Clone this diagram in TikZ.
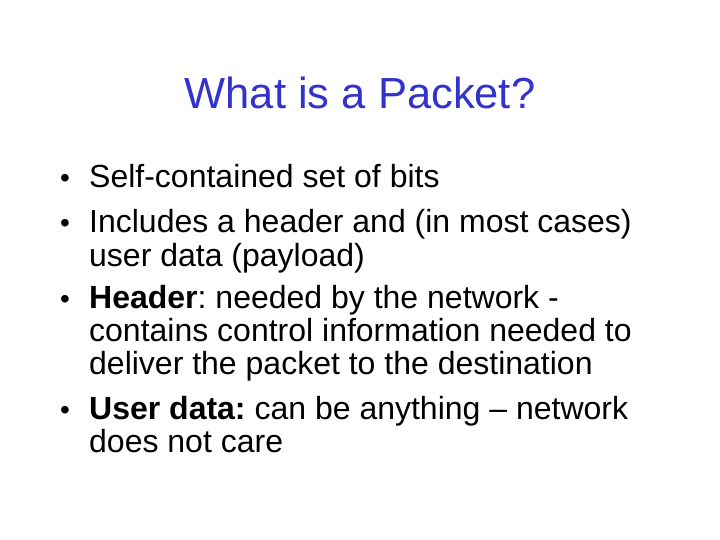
\documentclass[tikz,border=0pt]{standalone}
\usepackage{fontspec}
\setmainfont{Liberation Sans}
\frenchspacing
\definecolor{titleblue}{RGB}{51,51,204}
\tikzset{
  line/.style={anchor=base west, inner sep=0pt, font=\fontsize{32}{33}\selectfont},
  dot/.style={anchor=base, inner sep=0pt, font=\fontsize{28}{33}\selectfont}
}
\begin{document}
\begin{tikzpicture}[x=1pt, y=-1pt]
\useasboundingbox (0,0) rectangle (720,540);
\node[anchor=base, inner sep=0pt, text=titleblue, font=\fontsize{43.5}{44}\selectfont] (T) at (360,109) {What is a Packet?};

\node[dot] (B1) at (65,188) {\textbullet};
\node[line] (L1) at (89,188) {Self-contained set of bits};
\node[dot] (B2) at (65,233) {\textbullet};
\node[line] (L2) at (89,233) {Includes a header and (in most cases)};
\node[line] (L3) at (89,266) {user data (payload)};
\node[dot] (B3) at (65,308) {\textbullet};
\node[line] (L4) at (89,308) {\textbf{Header}: needed by the network -};
\node[line] (L5) at (89,341) {contains control information needed to};
\node[line] (L6) at (89,374) {deliver the packet to the destination};
\node[dot] (B4) at (65,419) {\textbullet};
\node[line] (L7) at (89,419) {\textbf{User data:} can be anything -- network};
\node[line] (L8) at (89,452) {does not care};
\end{tikzpicture}
\end{document}
